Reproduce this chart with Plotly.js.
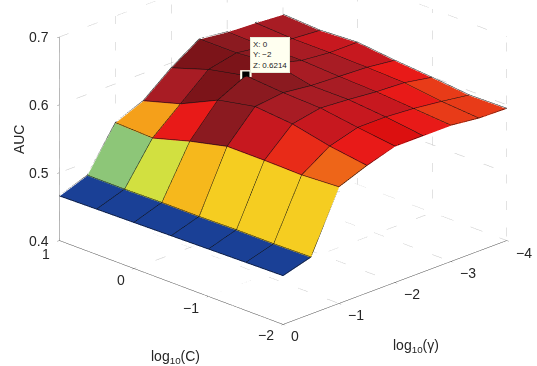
<!DOCTYPE html>
<html><head><meta charset="utf-8">
<script src="https://cdn.plot.ly/plotly-3.0.1.min.js"></script>
<style>html,body{margin:0;padding:0;background:#fff;overflow:hidden}#p{width:537px;height:366px}</style>
</head><body><div id="p"></div>
<script>
var logC = [1, 0.5, 0, -0.5, -1, -1.5, -2];
var logGamma = [0, -0.5, -1, -1.5, -2, -2.5, -3, -3.5, -4];
var tickC = [1, 0, -1, -2];
var tickGamma = [0, -1, -2, -3, -4];
var tickAUC = [0.4, 0.5, 0.6, 0.7];
// AUC[gamma index][C index]
var AUC = [
 [0.465, 0.466, 0.467, 0.468, 0.469, 0.470, 0.471],
 [0.480, 0.480, 0.481, 0.481, 0.482, 0.482, 0.483],
 [0.542, 0.540, 0.556, 0.569, 0.569, 0.568, 0.571],
 [0.559, 0.575, 0.601, 0.612, 0.607, 0.595, 0.587],
 [0.592, 0.610, 0.6214, 0.617, 0.615, 0.607, 0.600],
 [0.619, 0.619, 0.624, 0.612, 0.612, 0.607, 0.600],
 [0.614, 0.613, 0.613, 0.610, 0.608, 0.604, 0.600],
 [0.612, 0.609, 0.609, 0.608, 0.606, 0.599, 0.595],
 [0.609, 0.606, 0.609, 0.603, 0.5985, 0.593, 0.594]
];
// colour level of each facet (gamma cell, C cell)
var facetLevel = [
 [0, 0, 0, 0, 0, 0],
 [1, 2, 4, 3, 3, 3],
 [5, 8, 12, 10, 7.5, 6],
 [11, 13, 12, 11, 10, 8],
 [13, 13, 12, 11, 10, 9],
 [12, 12, 11, 11, 10, 8],
 [11, 11, 11, 10, 8, 7],
 [11, 10, 10, 8, 7, 7]
];
var levelColours = ['#1a4096','#92cc76','#d2e040','#f6cd20','#f6b81c','#f5a01a','#ee6418','#e83c18','#e81a18','#dc1010','#c8181f','#a81c24','#8c1a20','#7c1419'];
var tipX = 0, tipY = -2, tipZ = 0.6214;

var colorscale = levelColours.map(function(c,i){return [i/(levelColours.length-1), c];});
var vx=[],vy=[],vz=[],ti=[],tj=[],tk=[],lev=[];
var nC=logC.length,nG=logGamma.length;
logGamma.forEach(function(g,j){logC.forEach(function(c,k){vx.push(c);vy.push(g);vz.push(AUC[j][k]);});});
for(var j=0;j<nG-1;j++)for(var k=0;k<nC-1;k++){
  var a=j*nC+k,b=a+1,d=a+nC,e=d+1;
  ti.push(a,a);tj.push(b,e);tk.push(e,d);
  lev.push(facetLevel[j][k],facetLevel[j][k]);
}
var lift=0.001;
var ex=[],ey=[],ez=[];
logGamma.forEach(function(g,j){logC.forEach(function(c,k){ex.push(c);ey.push(g);ez.push(AUC[j][k]+lift);});ex.push(null);ey.push(null);ez.push(null);});
logC.forEach(function(c,k){logGamma.forEach(function(g,j){ex.push(c);ey.push(g);ez.push(AUC[j][k]+lift);});ex.push(null);ey.push(null);ez.push(null);});

var cMax=logC[0],cMin=logC[nC-1],gMax=logGamma[0],gMin=logGamma[nG-1],zMin=tickAUC[0],zMax=tickAUC[tickAUC.length-1];
var gx=[],gy=[],gz=[];
function seg(a,b){gx.push(a[0],b[0],null);gy.push(a[1],b[1],null);gz.push(a[2],b[2],null);}
tickC.forEach(function(c){seg([c,gMin,zMin],[c,gMax,zMin]);seg([c,gMin,zMin],[c,gMin,zMax]);});
tickGamma.forEach(function(g){seg([cMin,g,zMin],[cMax,g,zMin]);seg([cMax,g,zMin],[cMax,g,zMax]);});
tickAUC.forEach(function(z){seg([cMax,gMin,z],[cMax,gMax,z]);seg([cMin,gMin,z],[cMax,gMin,z]);});

var data=[
 {type:'scatter3d',mode:'lines',x:gx,y:gy,z:gz,line:{color:'#c4c4c4',width:1,dash:'dot'},hoverinfo:'skip',showlegend:false},
 {type:'mesh3d',x:vx,y:vy,z:vz,i:ti,j:tj,k:tk,intensity:lev,intensitymode:'cell',colorscale:colorscale,cmin:0,cmax:levelColours.length-1,showscale:false,flatshading:true,lighting:{ambient:1,diffuse:0,specular:0,roughness:1,fresnel:0},hoverinfo:'skip'},
 {type:'scatter3d',mode:'lines',x:ex,y:ey,z:ez,line:{color:'#111',width:1},hoverinfo:'skip',showlegend:false},
 {type:'scatter3d',mode:'markers',x:[tipX],y:[tipY],z:[tipZ+lift],marker:{symbol:'square',size:6,color:'#fffff0'},hoverinfo:'skip',showlegend:false},
 {type:'scatter3d',mode:'markers',x:[tipX],y:[tipY],z:[tipZ+2*lift],marker:{symbol:'square',size:3.8,color:'#000'},hoverinfo:'skip',showlegend:false}
];
var F='"Liberation Sans", Arial, sans-serif';
function note(x,y,z,t,sx,sy,opt){var a={x:x,y:y,z:z,text:t,showarrow:false,xshift:sx,yshift:sy,font:{family:F,size:14,color:'#262626'}};for(var q in (opt||{}))a[q]=opt[q];return a;}
var ann=[];
tickAUC.forEach(function(z){ann.push(note(cMax,gMax,z,z.toFixed(1),-8,0,{xanchor:'right'}));});
var sC={'1':[-13,-13],'0':[-13,-12],'-1':[-17,-12],'-2':[-17,-11]};
tickC.forEach(function(c){ann.push(note(c,gMax,zMin,String(c).replace('-','\u2212'),sC[c][0],sC[c][1]));});
var sG={'0':[12,-12],'-1':[17,-12],'-2':[17,-12],'-3':[17,-11],'-4':[17,-12]};
tickGamma.forEach(function(g){ann.push(note(cMin,g,zMin,String(g).replace('-','\u2212'),sG[g][0],sG[g][1]));});
ann.push(note(-0.5,gMax,zMin,'log<sub>10</sub>(C)',4,-75));
ann.push(note(cMin,-2,zMin,'log<sub>10</sub>(\u03b3)',21,-64));
ann.push(note(cMax,gMax,0.55,'AUC',-41,0,{textangle:-90}));
ann.push(note(tipX,tipY,tipZ,'X: 0<br>Y: \u22122<br>Z: 0.6214',4,3,{xanchor:'left',yanchor:'bottom',align:'left',bgcolor:'#fffff0',bordercolor:'#e8e8d8',borderwidth:1,borderpad:2,font:{family:F,size:8,color:'#222'}}));
function ax(r,t){return {range:r,tickvals:t,showgrid:false,zeroline:false,showbackground:false,showticklabels:false,showline:true,linecolor:'#444',linewidth:1,ticks:'outside',ticklen:3,tickcolor:'#777',title:{text:''},showspikes:false};}
var dist=1.5, cen={x:-0.0078,y:0.1204,z:-0.2242};
var layout={width:537,height:366,margin:{l:0,r:0,t:0,b:0},paper_bgcolor:'#fff',showlegend:false,
 scene:{domain:{x:[0,1],y:[0,1]},xaxis:ax([cMin,cMax],tickC),yaxis:ax([gMin,gMax],tickGamma),zaxis:ax([zMin,zMax],tickAUC),
  aspectmode:'manual',aspectratio:{x:1.729,y:1.729,z:1.2},
  camera:{projection:{type:'orthographic'},up:{x:0,y:0,z:1},center:cen,eye:{x:cen.x-dist,y:cen.y+dist,z:cen.z+0.572*dist}},
  annotations:ann}};
Plotly.newPlot('p',data,layout,{displayModeBar:false});
</script></body></html>
